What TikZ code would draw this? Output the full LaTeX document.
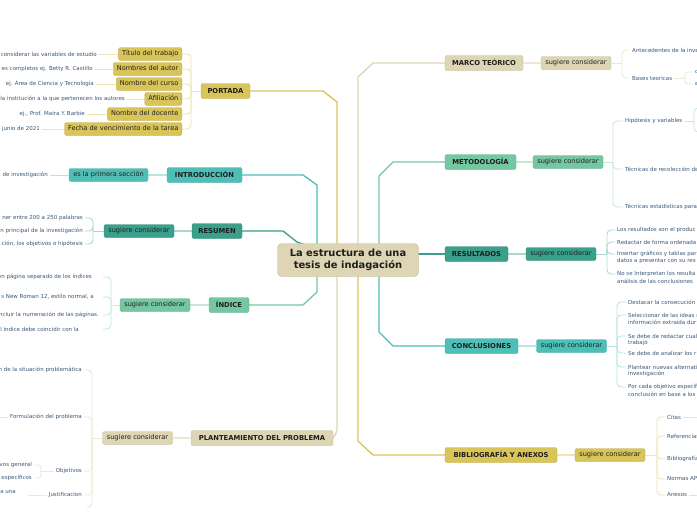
\documentclass[tikz,border=0pt]{standalone}
\usepackage{fontspec}
\setmainfont{DejaVu Sans}
\usetikzlibrary{backgrounds}
\definecolor{cgold}{HTML}{D9C45A}
\definecolor{cbeige}{HTML}{DDD5B4}
\definecolor{cteal}{HTML}{4EBFB7}
\definecolor{cdteal}{HTML}{3A9F8B}
\definecolor{cgreen}{HTML}{74C7A1}
\definecolor{pgold}{HTML}{EFE5B2}
\definecolor{pbeige}{HTML}{EDE8D6}
\definecolor{pteal}{HTML}{B8E5E1}
\definecolor{pdteal}{HTML}{AAD8CD}
\definecolor{pgreen}{HTML}{C6E9D8}
\definecolor{leafc}{HTML}{3A5878}
\definecolor{ntext}{HTML}{1E1E1E}
\begin{document}
\begin{tikzpicture}[x=1pt,y=-1pt,
  root/.style={fill=cbeige, draw=cbeige!88!black, line width=0.3pt, rounded corners=4pt, align=center, text=ntext,
    font=\fontsize{9.9}{12.3}\selectfont\bfseries, minimum width=141pt, minimum height=33pt, inner sep=0pt},
  mainnode/.style={rounded corners=2pt, text=ntext, draw=#1!88!black, line width=0.3pt, fill=#1,
    font=\fontsize{6.8}{8}\selectfont\bfseries, minimum height=15pt, inner xsep=2pt, inner ysep=0pt,
    text height=5pt, text depth=0.6pt},
  subnode/.style={rounded corners=2pt, text=ntext, draw=#1!88!black, line width=0.3pt, fill=#1,
    font=\fontsize{6.6}{8}\selectfont, minimum height=13pt, inner xsep=3.5pt, inner ysep=0pt,
    text height=4.9pt, text depth=1.2pt},
  leaf/.style={font=\fontsize{5.5}{7}\selectfont, text=leafc, inner xsep=2pt, inner ysep=0.5pt},
  mainc/.style={line width=1.3pt},
  subc/.style={line width=1.8pt},
  brk/.style={line width=0.9pt, rounded corners=4pt}]
\useasboundingbox (0,0) rectangle (697,520);
\clip (0,0) rectangle (697,520);

% central
\node[root] (root) at (348,260) {La estructura de una\\tesis de indagación};

% main branches
\node[mainnode=cgold, minimum width=49pt] (portada) at (225.5,91) {PORTADA};
\node[mainnode=cteal, minimum width=75pt] (intro) at (204.5,175) {INTRODUCCIÓN};
\node[mainnode=cdteal, minimum width=50pt] (resumen) at (217,231) {RESUMEN};
\node[mainnode=cgreen, minimum width=40pt] (indice) at (229,305) {ÍNDICE};
\node[mainnode=cbeige, minimum width=142pt] (plant) at (262,438) {PLANTEAMIENTO DEL PROBLEMA};
\node[mainnode=cbeige, minimum width=78pt] (marco) at (484,63) {MARCO TEÓRICO};
\node[mainnode=cgreen, minimum width=71pt] (metod) at (480.5,162) {METODOLOGÍA};
\node[mainnode=cdteal, minimum width=63pt] (result) at (476.5,254) {RESULTADOS};
\node[mainnode=cteal, minimum width=73pt] (concl) at (481.5,346) {CONCLUSIONES};
\node[mainnode=cgold, minimum width=112pt] (biblio) at (501,455) {BIBLIOGRAFÍA Y ANEXOS};

% sub nodes
\node[subnode=cteal, minimum width=79pt] (sintro) at (108.5,175) {es la primera sección};
\node[subnode=cdteal, minimum width=70pt] (sresumen) at (139,231) {sugiere considerar};
\node[subnode=cgreen, minimum width=70pt] (sindice) at (155,305) {sugiere considerar};
\node[subnode=cbeige, minimum width=70pt] (splant) at (137.5,438) {sugiere considerar};
\node[subnode=cbeige, minimum width=70pt] (smarco) at (576,63) {sugiere considerar};
\node[subnode=cgreen, minimum width=70pt] (smetod) at (568,162) {sugiere considerar};
\node[subnode=cdteal, minimum width=70pt] (sresult) at (561,254) {sugiere considerar};
\node[subnode=cteal, minimum width=70pt] (sconcl) at (571.5,346) {sugiere considerar};
\node[subnode=cgold, minimum width=70pt] (sbiblio) at (610,455) {sugiere considerar};

% portada children
\node[subnode=cgold, anchor=east] (p1) at (182,54) {Título del trabajo};
\node[subnode=cgold, anchor=east] (p2) at (182,69) {Nombres del autor};
\node[subnode=cgold, anchor=east] (p3) at (182,84) {Nombre del curso};
\node[subnode=cgold, anchor=east] (p4) at (182,99) {Afiliación};
\node[subnode=cgold, anchor=east] (p5) at (182,114) {Nombre del docente};
\node[subnode=cgold, anchor=east] (p6) at (182,129) {Fecha de vencimiento de la tarea};
\node[leaf, anchor=east] (pp1) at (99,54) {considerar las variables de estudio};
\node[leaf, anchor=east] (pp2) at (95,69) {es completos ej. Betty R. Castillo};
\node[leaf, anchor=east] (pp3) at (96,84) {ej. Área de Ciencia y Tecnología};
\node[leaf, anchor=east] (pp4) at (127,99) {la institución a la que pertenecen los autores};
\node[leaf, anchor=east] (pp5) at (87,114) {ej., Prof. Maira Y. Barbie};
\node[leaf, anchor=east] (pp6) at (42,129) {junio de 2021};

% introduccion leaf
\node[leaf, anchor=east] (in1) at (50,175) {de investigación};

% resumen leaves
\node[leaf, anchor=east] (rs1) at (85,218) {ner entre 200 a 250 palabras};
\node[leaf, anchor=east] (rs2) at (85,231) {n principal de la investigación};
\node[leaf, anchor=east] (rs3) at (85,244) {ción, los objetivos o hipótesis};

% indice leaves
\node[leaf, anchor=east] (ix1) at (103,277) {en página separado de los índices\hspace*{9pt}};
\node[leaf, anchor=east] (ix2) at (103,297) {s New Roman 12, estilo normal, a\hspace*{7pt}};
\node[leaf, anchor=east] (ix3) at (103,315) {ncluir la numeración de las páginas.\hspace*{2pt}};
\node[leaf, anchor=east] (ix4) at (103,329) {l índice debe coincidir con la\hspace*{22pt}};

% planteamiento leaves
\node[leaf, anchor=east] (pl1) at (84,370) {n de la situación problemática};
\node[leaf, anchor=east] (pl2) at (84,417) {Formulación del problema};
\node[leaf, anchor=east] (pl3) at (84,471) {Objetivos};
\node[leaf, anchor=east] (pl4) at (84,495) {Justificacion};
\coordinate (pl5) at (86,507);
\coordinate (pl2end) at (-3,417);
\node[leaf, anchor=east] (ob1) at (34,465) {vos general};
\node[leaf, anchor=east] (ob2) at (34,478) {s específicos};
\node[leaf, anchor=east] (ju1) at (18,492) {a una};
\coordinate (ju1c) at (28,495);

% marco leaves
\node[leaf, anchor=west] (mt1) at (630,50) {Antecedentes de la inve};
\node[leaf, anchor=west] (mt2) at (630,78) {Bases teoricas};
\node[leaf, anchor=west] (mt2a) at (693,72) {c};
\node[leaf, anchor=west] (mt2b) at (693,84) {e};

% metodologia leaves
\node[leaf, anchor=west] (me1) at (623,121) {Hipótesis y variables};
\node[leaf, anchor=west] (me2) at (623,169) {Técnicas de recolección de};
\node[leaf, anchor=west] (me3) at (623,207) {Técnicas estadísticas para};
\coordinate (hipa) at (703,108);
\coordinate (hipb) at (703,132);

% resultados leaves
\node[leaf, anchor=west] (re1) at (615,230) {Los resultados son el produc};
\node[leaf, anchor=west] (re2) at (615,242) {Redactar de forma ordenada};
\node[leaf, anchor=west] (re3) at (615,254) {Insertar gráficos y tablas par};
\node[leaf, anchor=west] (re3b) at (615,261) {datos a presentar con su res};
\node[leaf, anchor=west] (re4) at (615,274) {No se Interpretan los resulta};
\node[leaf, anchor=west] (re4b) at (615,281) {análisis de las conclusiones};

% conclusiones leaves
\node[leaf, anchor=west] (co1) at (626,302) {Destacar la consecución d};
\node[leaf, anchor=west] (co2) at (626,315) {Seleccionar de las ideas m};
\node[leaf, anchor=west] (co2b) at (626,322) {información extraída dur};
\node[leaf, anchor=west] (co3) at (626,336) {Se debe de redactar cual};
\node[leaf, anchor=west] (co3b) at (626,343) {trabajo};
\node[leaf, anchor=west] (co4) at (626,353) {Se debe de analizar los r};
\node[leaf, anchor=west] (co5) at (626,367) {Plantear nuevas alternati};
\node[leaf, anchor=west] (co5b) at (626,374) {investigación};
\node[leaf, anchor=west] (co6) at (626,387) {Por cada objetivo específ};
\node[leaf, anchor=west] (co6b) at (626,394) {conclusión en base a los};

% bibliografia leaves
\node[leaf, anchor=west] (bi1) at (665,417) {Citas};
\node[leaf, anchor=west] (bi2) at (665,436) {Referencias};
\node[leaf, anchor=west] (bi3) at (665,459) {Bibliografía};
\node[leaf, anchor=west] (bi4) at (665,479) {Normas AP};
\node[leaf, anchor=west] (bi5) at (665,495) {Anexos};
\coordinate (bi1e) at (703,417);
\coordinate (bi5e) at (703,495);

\begin{scope}[on background layer]
\fill[white] (0,0) rectangle (697,520);
% root connectors
\draw[mainc, cgold] (portada.east) -- (323,91) -- (337,102) -- (root.center -| 337,0);
\draw[mainc, cteal] (intro.east) -- (303,175) -- (317,185) -- (root.center -| 317,0);
\draw[mainc, cgreen] (indice.east) -- (303,305) -- (317,292) -- (root.center -| 317,0);
\draw[mainc, cdteal] (resumen.east) -- (283,231) -- (297,242) -- (root.center);
\draw[mainc, cbeige, rounded corners=3pt] (plant.east) -- (337,432) -- (root.center -| 337,0);
\draw[mainc, cbeige] (root.center -| 358,0) -- (358,77) -- (373,63) -- (marco.west);
\draw[mainc, cgold] (root.center -| 358,0) -- (358,441) -- (373,455) -- (biblio.west);
\draw[mainc, cgreen] (root.center -| 379,0) -- (379,176) -- (393,162) -- (metod.west);
\draw[mainc, cteal] (root.center -| 379,0) -- (379,332) -- (393,346) -- (concl.west);
\draw[mainc, cdteal] (root.center |- result.west) -- (result.west);

% main to sub
\draw[subc, pteal] (intro.west) -- (sintro.east);
\draw[subc, pdteal] (resumen.west) -- (sresumen.east);
\draw[subc, pgreen] (indice.west) -- (sindice.east);
\draw[subc, pbeige] (plant.west) -- (splant.east);
\draw[subc, pbeige] (marco.east) -- (smarco.west);
\draw[subc, pgreen] (metod.east) -- (smetod.west);
\draw[subc, pdteal] (result.east) -- (sresult.west);
\draw[subc, pteal] (concl.east) -- (sconcl.west);
\draw[subc, pgold] (biblio.east) -- (sbiblio.west);

% portada bracket
\draw[brk, pgold] (portada.west) -- (191,91);
\foreach \n in {p1,p2,p3,p4,p5,p6} \draw[brk, pgold] (191,91) |- (\n.east);
\foreach \n in {1,2,3,4,5,6} \draw[brk, pgold] (p\n.west) -- (pp\n.east);

% intro
\draw[brk, pteal] (sintro.west) -- (in1.east);

% resumen
\draw[brk, pdteal] (sresumen.west) -- (93,231);
\foreach \n in {rs1,rs2,rs3} \draw[brk, pdteal] (93,231) |- (\n.east);

% indice
\draw[brk, pgreen] (sindice.west) -- (111,305);
\foreach \n in {ix1,ix2,ix3,ix4} \draw[brk, pgreen] (111,305) |- (\n.east);

% planteamiento
\draw[brk, pbeige] (splant.west) -- (92,438);
\foreach \n in {pl1,pl2,pl3,pl4,pl5} \draw[brk, pbeige] (92,438) |- (\n);
\draw[brk, pbeige] (pl2.west) -- (pl2end);
\draw[brk, pbeige] (pl3.west) -- (41,471);
\foreach \n in {ob1,ob2} \draw[brk, pbeige, rounded corners=3pt] (41,471) |- (\n.east);
\draw[brk, pbeige] (pl4.west) -- (ju1c);

% marco
\draw[brk, pbeige] (smarco.east) -- (622,63);
\foreach \n in {mt1,mt2} \draw[brk, pbeige] (622,63) |- (\n.west);
\draw[brk, pbeige] (mt2.east) -- (685,78);
\foreach \n in {mt2a,mt2b} \draw[brk, pbeige, rounded corners=3pt] (685,78) |- (\n.west);

% metodologia
\draw[brk, pgreen] (smetod.east) -- (613,162);
\foreach \n in {me1,me2,me3} \draw[brk, pgreen] (613,162) |- (\n.west);
\draw[brk, pgreen] (me1.east) -- (694,121);
\foreach \n in {hipa,hipb} \draw[brk, pgreen] (694,121) |- (\n);

% resultados
\draw[brk, pdteal] (sresult.east) -- (607,254);
\foreach \n in {re1,re2,re3,re4} \draw[brk, pdteal] (607,254) |- (\n.west);

% conclusiones
\draw[brk, pteal] (sconcl.east) -- (617,346);
\foreach \n in {co1,co2,co3,co4,co5,co6} \draw[brk, pteal] (617,346) |- (\n.west);

% bibliografia
\draw[brk, pgold] (sbiblio.east) -- (657,455);
\foreach \n in {bi1,bi2,bi3,bi4,bi5} \draw[brk, pgold] (657,455) |- (\n.west);
\draw[brk, pgold] (bi1.east) -- (bi1e);
\draw[brk, pgold] (bi5.east) -- (bi5e);
\end{scope}
\end{tikzpicture}
\end{document}
